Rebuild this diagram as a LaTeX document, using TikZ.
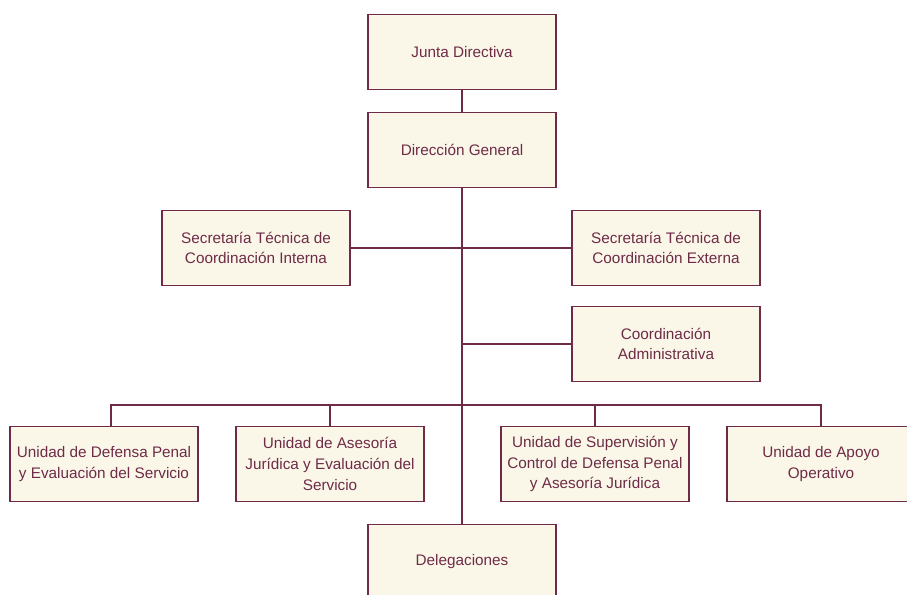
\documentclass[tikz,border=0pt]{standalone}
\usepackage{fontspec}
\setmainfont{Liberation Sans}
\definecolor{maroon}{HTML}{6E2B47}
\definecolor{cream}{HTML}{FAF7E9}
\begin{document}
\begin{tikzpicture}[x=1pt,y=-1pt,
  orgbox/.style={draw=maroon,fill=cream,line width=1.5pt,minimum width=188pt,minimum height=75pt,
    inner sep=2pt,align=center,text=maroon,font=\fontsize{15.3}{20.7}\selectfont},
  link/.style={draw=maroon,line width=1.5pt}]
\useasboundingbox (0,0) rectangle (907,594);
\clip (0,0) rectangle (907,594);
\node[orgbox] (junta) at (462,52) {Junta Directiva};
\node[orgbox] (dir) at (462,150) {Dirección General};
\node[orgbox] (secint) at (256,248) {Secretaría Técnica de\\Coordinación Interna};
\node[orgbox] (secext) at (666,248) {Secretaría Técnica de\\Coordinación Externa};
\node[orgbox] (coord) at (666,344) {Coordinación\\Administrativa};
\node[orgbox] (u1) at (104,464) {Unidad de Defensa Penal\\y Evaluación del Servicio};
\node[orgbox] (u2) at (330,464) {Unidad de Asesoría\\Jurídica y Evaluación del\\Servicio};
\node[orgbox] (u3) at (595,464) {Unidad de Supervisión y\\Control de Defensa Penal\\y Asesoría Jurídica};
\node[orgbox] (u4) at (821,464) {Unidad de Apoyo\\Operativo};
\node[orgbox] (deleg) at (462,562) {Delegaciones};
\coordinate (b1) at (111,405);
\coordinate (tc) at (dir.south |- coord.west);
\draw[link] (junta) -- (dir);
\draw[link] (dir) -- (deleg);
\draw[link] (secint) -- (secext);
\draw[link] (coord.west) -- (tc);
\draw[link] (b1 |- u1.north) -- (b1) -- (b1 -| u4) -- (u4.north);
\draw[link] (b1 -| u2) -- (u2.north);
\draw[link] (b1 -| u3) -- (u3.north);
\end{tikzpicture}
\end{document}
